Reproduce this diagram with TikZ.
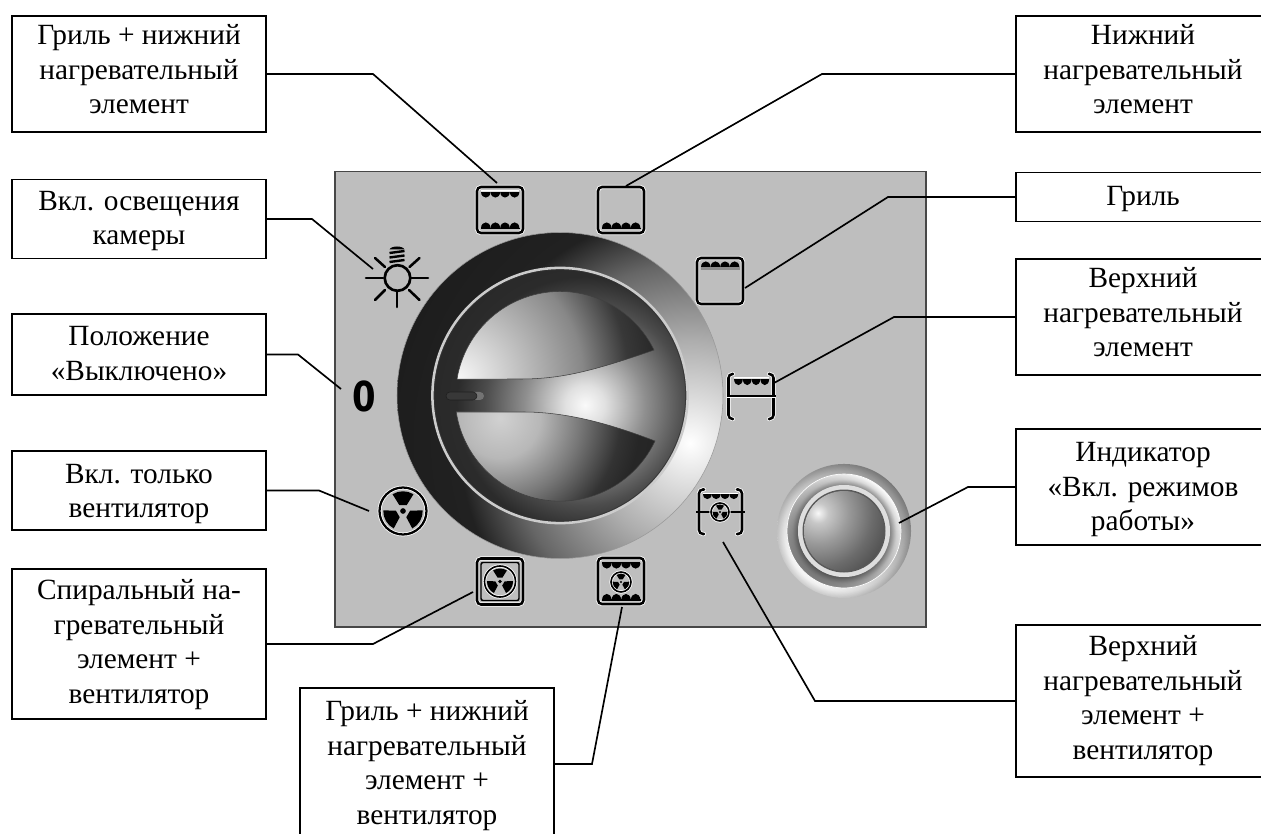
\documentclass[tikz,border=0pt]{standalone}
\usepackage{fontspec}
\setmainfont{Liberation Serif}
\newfontfamily\zerofont{DejaVu Sans}
\usetikzlibrary{calc,fadings}
\pgfdeclareradialshading{ringshade}{\pgfpoint{0bp}{0bp}}{gray(0bp)=(1);gray(2bp)=(.92);gray(8bp)=(.68);gray(14bp)=(.40);gray(18bp)=(.13);gray(25bp)=(.11);gray(50bp)=(.11)}
\pgfdeclareradialshading{discshade}{\pgfpoint{0bp}{0bp}}{gray(0bp)=(.98);gray(2.5bp)=(.88);gray(7.5bp)=(.56);gray(12.5bp)=(.3);gray(16bp)=(.17);gray(25bp)=(.14);gray(50bp)=(.14)}
\pgfdeclareradialshading{upshade}{\pgfpoint{0bp}{0bp}}{gray(0bp)=(.97);gray(6.25bp)=(.76);gray(13bp)=(.53);gray(17.7bp)=(.22);gray(21bp)=(.15);gray(25bp)=(.13);gray(50bp)=(.13)}
\pgfdeclareradialshading{downshade}{\pgfpoint{0bp}{0bp}}{gray(0bp)=(.82);gray(5bp)=(.72);gray(10bp)=(.47);gray(15bp)=(.2);gray(17.5bp)=(.15);gray(25bp)=(.13);gray(50bp)=(.13)}
\pgfdeclareradialshading{torusshade}{\pgfpoint{0bp}{0bp}}{gray(0bp)=(.6);gray(17.2bp)=(.6);gray(19.4bp)=(.9);gray(21.3bp)=(1);gray(22.4bp)=(.97);gray(25bp)=(.8);gray(50bp)=(.8)}
\pgfdeclareradialshading{ballshade}{\pgfpoint{0bp}{0bp}}{gray(0bp)=(.97);gray(3bp)=(.78);gray(9bp)=(.6);gray(16bp)=(.42);gray(25bp)=(.25);gray(50bp)=(.25)}
\definecolor{panelgray}{gray}{.745}
\tikzset{
  label box/.style={draw=black,line width=1.2pt,fill=white,minimum width=190.5pt,inner sep=0pt,
     font=\fontsize{22}{25.9}\selectfont},
  lead/.style={draw=black,line width=1.25pt,line join=miter},
  oven/.style={draw=black,line width=1.9pt,rounded corners=3pt,minimum width=34.5pt,minimum height=34.5pt,inner sep=0pt,
     preaction={draw=white,line width=3.1pt}},
  icon line/.style={draw=black,line width=1.9pt,rounded corners=3pt,line cap=round},
  icon halo/.style={draw=white,line width=3.1pt,rounded corners=3pt,line cap=round},
  thin icon/.style={draw=black,line width=1.5pt},
}
% raise in pt, lines of the label
\newcommand{\boxtext}[2]{\raisebox{\dimexpr #1pt-5.5pt\relax}[0pt][0pt]{\begin{tabular}[c]{@{}c@{}}#2\end{tabular}}}
% x0, width of one, y base, height (+ = down on the page)
\newcommand{\heatrow}[4]{%
  \foreach \hi in {0,1,2,3}{%
    \fill[black] ({#1+\hi*#2},#3) .. controls ({#1+\hi*#2+.05*#2},{#3+1.35*#4}) and ({#1+\hi*#2+.95*#2},{#3+1.35*#4}) .. ({#1+\hi*#2+#2},#3) -- cycle;
  }%
}
% cx, cy, r, ring width
\newcommand{\fansign}[4]{%
  \begin{scope}[shift={(#1,#2)}]
    \draw[white,line width=#4+1.2pt] (0,0) circle (#3);
    \draw[black,line width=#4] (0,0) circle (#3);
    \foreach \ha in {-90,30,150}{%
      \fill[black] (\ha-32:{.3*#3}) -- (\ha-32:{.84*#3}) arc[start angle=\ha-32,end angle=\ha+32,radius={.84*#3}] -- (\ha+32:{.3*#3}) -- cycle;
    }%
    \fill[black] (0,0) circle ({.12*#3});
  \end{scope}%
}
\begin{document}
\begin{tikzpicture}[x=.75pt,y=-.75pt]
\clip (0,0) rectangle (1261,834);
\fill[white] (0,0) rectangle (1261,834);

% panel
\filldraw[fill=panelgray,draw=black!72,line width=1.1pt] (335,171.5) rectangle (926,627);

% knob
\begin{scope}
  \clip (560,395.5) circle (163);
  \shade[shading=ringshade] (690,443) circle (320);
\end{scope}
\draw[black!40,line width=.4pt] (560,395.5) circle (163);
\begin{scope}
  \clip (560,395.5) circle (127);
  \shade[shading=discshade] (585,405) circle (200);
\end{scope}
\draw[black!80,line width=.4pt] (560,395.5) circle (125.6);
\draw[black!20,line width=1.9pt] (560,395.5) circle (127.6);
% upper lobe
\begin{scope}
  \clip (654,350) arc[start angle=-26.1,end angle=-170.7,radius=104.5] -- (520,379) .. controls (560,379) and (590,372) .. (654,350) -- cycle;
  \shade[shading=upshade] (458,378) circle (240);
\end{scope}
\draw[black!75,line width=.4pt] (654,350) arc[start angle=-26.1,end angle=-170.7,radius=104.5] -- (520,379) .. controls (560,379) and (590,372) .. (654,350) -- cycle;
% lower lobe
\begin{scope}
  \clip (456,412) -- (523,412) .. controls (560,412) and (600,420) .. (655,441) arc[start angle=25.3,end angle=171.3,radius=105] -- cycle;
  \shade[shading=downshade] (500,418) circle (200);
\end{scope}
\draw[black!75,line width=.4pt] (456,412) -- (523,412) .. controls (560,412) and (600,420) .. (655,441) arc[start angle=25.3,end angle=171.3,radius=105] -- cycle;
% pointer slot
\fill[black!55,rounded corners=3pt] (470,392) rectangle (484,400);
\filldraw[fill=black!78,draw=black!88,line width=.4pt,rounded corners=3pt] (446,392) rectangle (477,400);

% indicator
\shade[shading=torusshade] (844,531) circle (67);
\fill[black,fill opacity=.5,even odd rule,path fading=east,fading transform={rotate=45}] (844,531) circle (57) (844,531) circle (46);
\fill[black,fill opacity=.42,even odd rule,path fading=west,fading transform={rotate=45}] (844,531) circle (67) (844,531) circle (57);
\draw[white,line width=.5pt] (844,531) circle (57);
\fill[black!13] (844,531) circle (46);
\fill[black!65] (844,531) circle (41.5);
\begin{scope}
  \clip (844,531) circle (40);
  \shade[shading=ballshade] (818,513) circle (85);
\end{scope}

% oven icons
\node[oven] (iconboth) at (500,210) {};
\fill[white] (481,190.5) rectangle (519,191.6);
\heatrow{481}{9.6}{192}{5.5}
\fill[black] (481,228) rectangle (519.5,229.5);
\heatrow{481}{9.6}{228}{-5.5}
\node[oven] (iconlower) at (621,210) {};
\fill[black] (602,228) rectangle (640.5,229.5);
\heatrow{602}{9.6}{228}{-5.5}
\node[oven] (icongrill) at (720,281) {};
\fill[black!45] (701,267) rectangle (740,270);
\heatrow{701}{9.6}{267}{-5.5}
% bracket, heater only
\foreach \st in {icon halo,icon line}{
  \draw[\st] (733,374) -- (728.5,374) -- (728.5,419) -- (733,419);
  \draw[\st] (769,374) -- (773.5,374) -- (773.5,419) -- (769,419);
}
\fill[white] (734,377.5) rectangle (769,378.6);
\heatrow{734}{8.8}{379}{6}
\draw[white,line width=.9pt] (727,397.6) -- (776,397.6);
\draw[thin icon] (727,396) -- (776,396);
% bracket, heater with fan
\foreach \st in {icon halo,icon line}{
  \draw[\st] (704,489.5) -- (699,489.5) -- (699,534) -- (704,534);
  \draw[\st] (737,489.5) -- (742,489.5) -- (742,534) -- (737,534);
}
\fill[white] (703,492.5) rectangle (738,493.6);
\heatrow{703}{8.8}{494}{5}
\draw[thin icon] (696,512) -- (711,512);
\draw[thin icon] (730,512) -- (745,512);
\fansign{720}{512}{9}{1.2pt}
% grill, lower, fan
\node[oven] (iconcombo) at (621,581) {};
\heatrow{602}{9.6}{563}{5.5}
\draw[black,line width=1pt] (602,562.5) -- (640,562.5);
\fill[black] (602,599) rectangle (640.5,601);
\heatrow{602}{9.6}{600}{-6}
\fansign{621}{582}{10}{1.2pt}
% spiral, fan
\node[oven] (iconspiral) at (500,581.5) {};
\draw[black,line width=1.1pt,rounded corners=1.5pt] (481,562.5) rectangle (519,600.5);
\fansign{500}{581.5}{15.5}{1.2pt}
% fan only
\fansign{403}{511}{23.5}{1.7pt}
% lamp
\foreach \ca/\cb/\cc/\cd in {366/278/383/278,411/278/428/278,397/291/397/307,375/258/385/267,419.5/258/409.5/267,375/300/385/290,419.5/300/409/290}{
  \draw[black,line width=1.9pt,line cap=round] (\ca,\cb) -- (\cc,\cd);
}
\draw[black,line width=2pt] (397.5,278) circle (12.8);
\fill[black] (389.5,249.5) .. controls (391,245.5) and (403,245.5) .. (404.5,249.5) -- cycle;
\foreach \yy in {253,257.5,262}{
  \draw[black,line width=1.8pt] (389.5,\yy) -- (404.5,\yy-2);
}
\node[font=\zerofont\bfseries\fontsize{31}{31}\selectfont,inner sep=0pt] (zeromark) at (364.5,396) {\scalebox{.82}[1]{0}};

% labels
\node[label box,minimum height=87pt]    (grilllower) at (139,74) {\boxtext{1.5}{Гриль + нижний\\нагревательный\\элемент}};
\node[label box,minimum height=59.5pt]  (lampbox)    at (139,219) {\boxtext{-1}{Вкл. освещения\\камеры}};
\node[label box,minimum height=60.5pt]  (offbox)     at (139,354.5) {\boxtext{-1}{Положение\\«Выключено»}};
\node[label box,minimum height=59.5pt]  (fanbox)     at (139,490.5) {\boxtext{-2}{Вкл. только\\вентилятор}};
\node[label box,minimum height=112.5pt] (spiralbox)  at (139,644) {\boxtext{0}{Спиральный на-\\гревательный\\элемент +\\вентилятор}};
\node[label box,minimum height=114pt]   (combobox)   at (427,764) {\boxtext{-1}{Гриль + нижний\\нагревательный\\элемент +\\вентилятор}};
\node[label box,minimum height=87pt]    (lowerbox)   at (1143,74) {\boxtext{1.5}{Нижний\\нагревательный\\элемент}};
\node[label box,minimum height=36.5pt]  (grillbox)   at (1143,197) {\boxtext{-1}{Гриль}};
\node[label box,minimum height=87pt]    (upperbox)   at (1143,317) {\boxtext{1.5}{Верхний\\нагревательный\\элемент}};
\node[label box,minimum height=87pt]    (lightbox)   at (1143,487) {\boxtext{-1.5}{Индикатор\\«Вкл. режимов\\работы»}};
\node[label box,minimum height=114pt]   (upfanbox)   at (1143,701) {\boxtext{.5}{Верхний\\нагревательный\\элемент +\\вентилятор}};

% connector ends and bends
\coordinate (tipA) at (497,183); \coordinate (bendA) at (373,74);
\coordinate (tipB) at (373,269); \coordinate (bendB) at (312,219);
\coordinate (tipC) at (341,389); \coordinate (bendC) at (298,354.5);
\coordinate (tipD) at (369,511); \coordinate (bendD) at (319,490.5);
\coordinate (tipE) at (473,592); \coordinate (bendE) at (373,644);
\coordinate (tipF) at (622,607); \coordinate (bendF) at (592,764);
\coordinate (tipG) at (626,186); \coordinate (bendG) at (822,74);
\coordinate (tipH) at (745,288); \coordinate (bendH) at (888,197);
\coordinate (tipI) at (774,383); \coordinate (bendI) at (894,317);
\coordinate (tipJ) at (899,523); \coordinate (bendJ) at (968,487);
\coordinate (tipK) at (723,542); \coordinate (bendK) at (815,701);

\draw[lead] (grilllower.east) -- (bendA) -- (tipA);
\draw[lead] (lampbox.east) -- (bendB) -- (tipB);
\draw[lead] (offbox.east) -- (bendC) -- (tipC);
\draw[lead] (fanbox.east) -- (bendD) -- (tipD);
\draw[lead] (spiralbox.east) -- (bendE) -- (tipE);
\draw[lead] (combobox.east) -- (bendF) -- (tipF);
\draw[lead] (lowerbox.west) -- (bendG) -- (tipG);
\draw[lead] (grillbox.west) -- (bendH) -- (tipH);
\draw[lead] (upperbox.west) -- (bendI) -- (tipI);
\draw[lead] (lightbox.west) -- (bendJ) -- (tipJ);
\draw[lead] (upfanbox.west) -- (bendK) -- (tipK);
\end{tikzpicture}
\end{document}
